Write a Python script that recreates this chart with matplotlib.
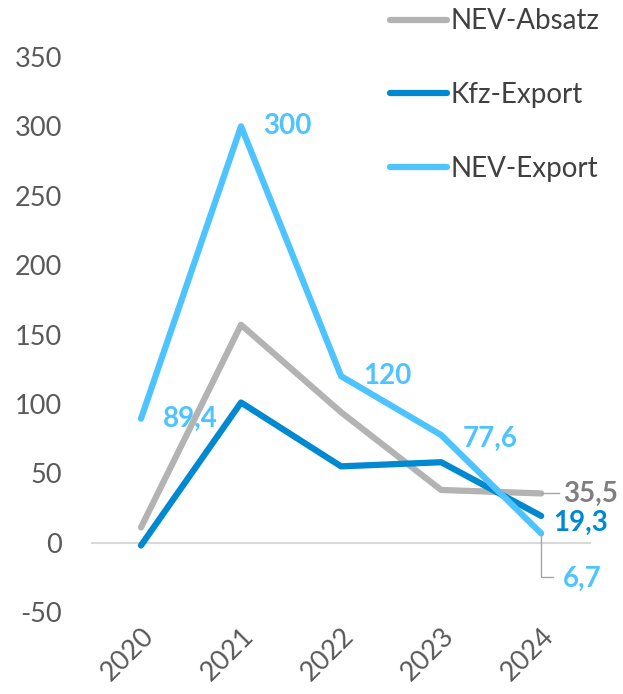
import matplotlib.pyplot as plt
import numpy as np

plt.rcParams['font.family'] = ['Lato', 'DejaVu Sans']

years = ['2020', '2021', '2022', '2023', '2024']
nev_absatz = [11, 157, 94, 38, 35.5]
kfz_export = [-2, 101, 55, 58, 19.3]
nev_export = [89.4, 300, 120, 77.6, 6.7]

c_gray = '#B3B3B3'
c_dark = '#0089D1'
c_light = '#4DC4FF'
c_text = '#595959'

fig = plt.figure(figsize=(6.23, 6.94), dpi=100)
ax = fig.add_axes([0.146, 0.118, 0.803, 0.8])

x = np.arange(len(years))
l1, = ax.plot(x, nev_absatz, color=c_gray, lw=4.5, solid_capstyle='round', label='NEV-Absatz', clip_on=False)
l2, = ax.plot(x, kfz_export, color=c_dark, lw=4.5, solid_capstyle='round', label='Kfz-Export', clip_on=False)
l3, = ax.plot(x, nev_export, color=c_light, lw=4.5, solid_capstyle='round', label='NEV-Export', clip_on=False)

ax.axhline(0, color='#D9D9D9', lw=1.5, zorder=0)
ax.set_xlim(-0.5, 4.5)
ax.set_ylim(-50, 350)
ax.set_yticks(range(-50, 351, 50))
ax.set_yticklabels([str(v) for v in range(-50, 351, 50)])
ax.set_xticks(x)
ax.set_xticklabels(years, rotation=45, ha='right', rotation_mode='anchor')
ax.tick_params(length=0, labelsize=19.5, colors=c_text)
ax.tick_params(axis='y', pad=21)
ax.tick_params(axis='x', pad=8)
for s in ax.spines.values():
    s.set_visible(False)

# data labels
lab = dict(fontsize=20, fontweight='bold', va='center')
ax.text(1.22, nev_export[1], '300', color=c_light, **lab)
ax.text(0.22, 89.4, '89,4', color=c_light, **lab)
ax.text(2.22, nev_export[2], '120', color=c_light, **lab)
ax.text(3.22, 77.6 - 3, '77,6', color=c_light, **lab)
ax.text(4.22, 35.5, '35,5', color='#7F7F7F', **lab)
ax.text(4.12, 19.3 - 5, '19,3', color=c_dark, **lab)
ax.text(4.22, -26, '6,7', color=c_light, **lab)
# leader lines
ax.plot([4.0, 4.18], [35.5, 35.5], color='#A6A6A6', lw=1, clip_on=False)
ax.plot([4.0, 4.0, 4.12], [6.7, -25, -25], color='#A6A6A6', lw=1, clip_on=False)

fig.legend(handles=[l1, l2, l3], loc='upper left', bbox_to_anchor=(0.586, 1.024),
           frameon=False, fontsize=20, labelcolor='#404040', handlelength=2.05,
           handletextpad=0.12, labelspacing=1.72)

fig.savefig('out.png', dpi=100)
